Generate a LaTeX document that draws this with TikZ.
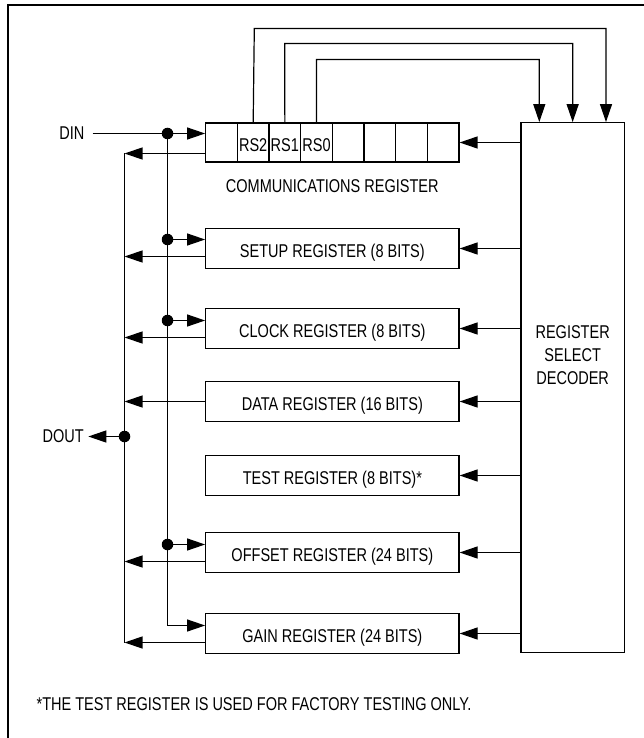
\documentclass[tikz,border=0pt]{standalone}
\usepackage{fontspec}
\setmainfont{Liberation Sans}[FakeStretch=0.785]
\usetikzlibrary{arrows.meta}
\begin{document}
\begin{tikzpicture}[x=1pt,y=-1pt, line width=1.2pt,
  font=\fontsize{18.5}{23}\selectfont,
  arr/.style={-{Triangle[length=18pt,width=12pt]}},
  reg/.style={draw, minimum width=253.3pt, minimum height=39.4pt, inner sep=0pt, text height=13.2pt, text depth=0pt},
  cell/.style={draw, minimum width=31.66pt, minimum height=39pt, inner sep=0pt, text height=13.2pt, text depth=0pt},
  dot/.style={circle, fill, inner sep=0pt, minimum size=11.5pt},
  lbl/.style={inner sep=0pt, text height=13.2pt, text depth=0pt}]
\useasboundingbox (0,0) rectangle (644,738);
% frame
\draw[line width=1.7pt] (8.3,738) -- (8.3,4.7) -- (644,4.7);

% communications register cells
\foreach \i/\t in {1/,2/RS2,3/RS1,4/RS0,5/,6/,7/,8/}{
  \node[cell] (c\i) at ({205.7+31.66*(\i-0.5)},142.5) {\raisebox{-2pt}{\t}};
}
\node[lbl] (commlbl) at (332.3,186) {COMMUNICATIONS REGISTER};

% registers
\node[reg] (setup)  at (332.35,248.5) {\raisebox{-2pt}{SETUP REGISTER (8 BITS)}};
\node[reg] (clock)  at (332.35,328.5) {\raisebox{-2pt}{CLOCK REGISTER (8 BITS)}};
\node[reg] (data)   at (332.35,401.5) {\raisebox{-2pt}{DATA REGISTER (16 BITS)}};
\node[reg] (test)   at (332.35,475.5) {\raisebox{-2pt}{TEST REGISTER (8 BITS)*}};
\node[reg] (offset) at (332.35,552.5) {\raisebox{-2pt}{OFFSET REGISTER (24 BITS)}};
\node[reg] (gain)   at (332.35,633.5) {\raisebox{-2pt}{GAIN REGISTER (24 BITS)}};

% decoder
\node[draw, minimum width=103.3pt, minimum height=530pt, inner sep=0pt] (dec) at (572.65,387.7) {};
\node[inner sep=0pt, align=center] (declbl) at (572.65,355) {REGISTER\\SELECT\\DECODER};

% decoder outputs to registers
\draw[arr] (dec.west |- c8.east) -- (c8.east);
\foreach \r in {setup,clock,data,test,offset,gain}{
  \draw[arr] (dec.west |- \r.east) -- (\r.east);
}

% RS wires
\draw[arr] (c2.north) -- (254.3,28.5) -| ([xshift=33.35pt]dec.north);
\draw[arr] (c3.north) -- (284.8,43.5) -| (dec.north);
\draw[arr] (c4.north) -- (316.5,59.5) -| ([xshift=-33.35pt]dec.north);

% DIN
\node[inner sep=0pt, anchor=east] (din) at (85,133.5) {DIN};
\node[dot] (d1) at (167.5,133.5) {};
\node[dot] (d2) at (167.5,239.5) {};
\node[dot] (d3) at (167.5,320.5) {};
\node[dot] (d4) at (167.5,544.5) {};
\coordinate (gbend) at (167.5,625.5);
\draw ([xshift=7.7pt]din.east) -- (d1.center);
\draw (d1.center) -- (gbend);
\draw[arr] (d1.center) -- (d1 -| c1.west);
\draw[arr] (d2.center) -- (d2 -| setup.west);
\draw[arr] (d3.center) -- (d3 -| clock.west);
\draw[arr] (d4.center) -- (d4 -| offset.west);
\draw[arr] (gbend) -- (gbend -| gain.west);

% output bus
\coordinate (o1) at (124.5,153.5);
\coordinate (o2) at (124.5,256.5);
\coordinate (o3) at (124.5,337.5);
\coordinate (o4) at (124.5,401.5);
\coordinate (o5) at (124.5,561.5);
\coordinate (o6) at (124.5,642.5);
\draw (o1) -- (o6);
\draw[arr] (c1.west |- o1) -- (o1);
\draw[arr] (setup.west |- o2) -- (o2);
\draw[arr] (clock.west |- o3) -- (o3);
\draw[arr] (data.west |- o4) -- (o4);
\draw[arr] (offset.west |- o5) -- (o5);
\draw[arr] (gain.west |- o6) -- (o6);

% DOUT
\node[dot] (dd) at (124.5,436.5) {};
\node[inner xsep=4pt, inner ysep=0pt, anchor=east] (dout) at (88.3,436.5) {DOUT};
\draw[arr] (dd.center) -- (dout.east);

% footnote
\node[inner sep=0pt, anchor=base west] (foot) at (36,710.7) {*THE TEST REGISTER IS USED FOR FACTORY TESTING ONLY.};
\end{tikzpicture}
\end{document}
